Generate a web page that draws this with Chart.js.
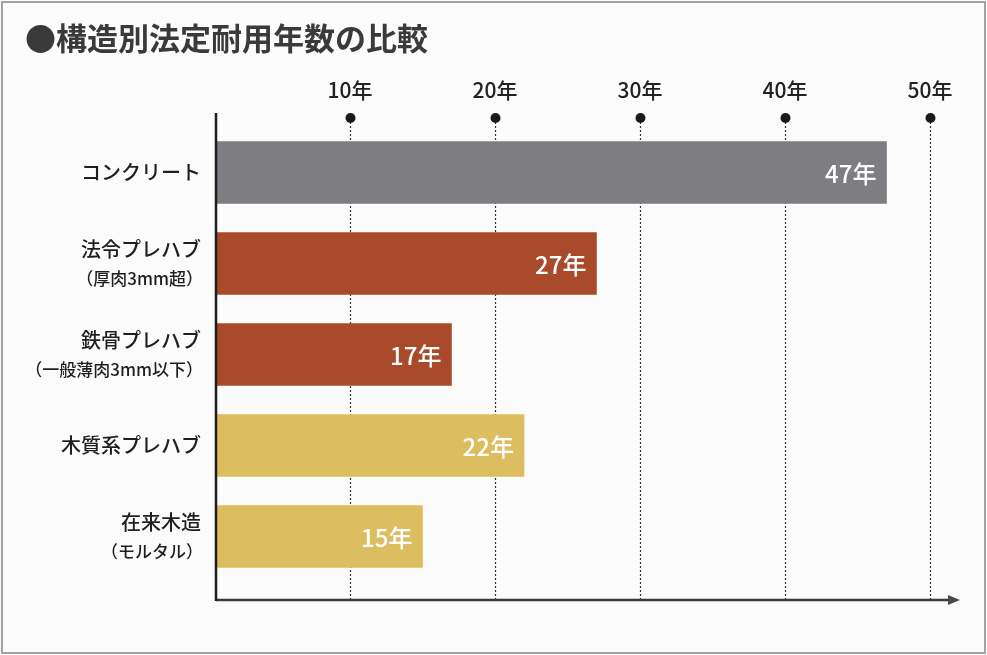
<!DOCTYPE html>
<html lang="ja">
<head>
<meta charset="utf-8">
<title>構造別法定耐用年数の比較</title>
<script src="https://cdn.jsdelivr.net/npm/chart.js@4.4.1/dist/chart.umd.min.js"></script>
<style>
  html, body { margin: 0; padding: 0; background: #fbfbfb; }
  #wrap { width: 987px; height: 655px; position: relative; }
</style>
</head>
<body>
<div id="wrap"><canvas id="lifeChart"></canvas></div>
<script>
const chartTitle = "●構造別法定耐用年数の比較";
const structureLabels = [
  ["コンクリート"],
  ["法令プレハブ", "（厚肉3mm超）"],
  ["鉄骨プレハブ", "（一般薄肉3mm以下）"],
  ["木質系プレハブ"],
  ["在来木造", "（モルタル）"],
];
const usefulYears = [47, 27, 17, 22, 15];
const barColors = ["#7d7d82", "#a94b2b", "#a94b2b", "#dcbd60", "#dcbd60"];
const yearTicks = [10, 20, 30, 40, 50];
const yearSuffix = "年";

const FONT = "'Noto Sans CJK JP', 'Noto Sans', sans-serif";
const X_MIN = 0.76;
const X_MAX = 52.07;

// 背景と枠
const framePlugin = {
  id: "frame",
  beforeDraw(chart) {
    const { ctx, width, height } = chart;
    ctx.save();
    ctx.fillStyle = "#fbfbfb";
    ctx.fillRect(0, 0, width, height);
    ctx.strokeStyle = "#a3a3a3";
    ctx.lineWidth = 2;
    ctx.strokeRect(2, 2, width - 4, height - 4);
    ctx.restore();
  },
};

// 点線の目盛線と黒丸、軸線
const gridPlugin = {
  id: "dotGrid",
  beforeDatasetsDraw(chart) {
    const { ctx, chartArea, scales } = chart;
    const top = chartArea.top - 9;
    const bottom = chartArea.bottom + 18;
    ctx.save();
    yearTicks.forEach((v) => {
      const x = Math.round(scales.x.getPixelForValue(v)) + 0.5;
      ctx.strokeStyle = "#333";
      ctx.lineWidth = 1.2;
      ctx.setLineDash([2, 2]);
      ctx.beginPath();
      ctx.moveTo(x, top);
      ctx.lineTo(x, bottom);
      ctx.stroke();
      ctx.setLineDash([]);
      ctx.fillStyle = "#1a1a1a";
      ctx.beginPath();
      ctx.arc(x, top, 5, 0, Math.PI * 2);
      ctx.fill();
    });
    ctx.restore();
  },
  afterDatasetsDraw(chart) {
    const { ctx, chartArea } = chart;
    const left = chartArea.left;
    const top = chartArea.top - 14;
    const bottom = chartArea.bottom + 18;
    ctx.save();
    ctx.strokeStyle = "#3a3a3a";
    ctx.lineWidth = 2.5;
    ctx.beginPath();
    ctx.moveTo(left, bottom);
    ctx.lineTo(chartArea.right - 8, bottom);
    ctx.stroke();
    ctx.fillStyle = "#4a4a4a";
    ctx.beginPath();
    ctx.moveTo(chartArea.right, bottom);
    ctx.lineTo(chartArea.right - 12, bottom - 5);
    ctx.lineTo(chartArea.right - 12, bottom + 5);
    ctx.closePath();
    ctx.fill();
    ctx.strokeStyle = "#1e1e1e";
    ctx.beginPath();
    ctx.moveTo(left, top);
    ctx.lineTo(left, bottom + 1);
    ctx.stroke();
    ctx.restore();
  },
};

// 左の項目名と棒の中の数値
const labelPlugin = {
  id: "labels",
  afterDraw(chart) {
    const { ctx, scales } = chart;
    const meta = chart.getDatasetMeta(0);
    ctx.save();
    ctx.textBaseline = "middle";
    structureLabels.forEach((lines, i) => {
      const y = scales.y.getPixelForTick(i);
      ctx.textAlign = "right";
      ctx.fillStyle = "#1f1f1f";
      if (lines.length === 1) {
        ctx.font = `500 20px ${FONT}`;
        ctx.fillText(lines[0], 201, y);
      } else {
        ctx.font = `500 20px ${FONT}`;
        ctx.fillText(lines[0], 201, y - 14);
        ctx.font = `500 17px ${FONT}`;
        ctx.fillText(lines[1], 203, y + 15);
      }
      const bar = meta.data[i];
      ctx.fillStyle = "#ffffff";
      ctx.font = `500 24px ${FONT}`;
      ctx.fillText(usefulYears[i] + yearSuffix, bar.x - 10, bar.y + 1);
    });
    ctx.restore();
  },
};

new Chart(document.getElementById("lifeChart"), {
  type: "bar",
  data: {
    labels: structureLabels,
    datasets: [
      {
        data: usefulYears,
        backgroundColor: barColors,
        barThickness: 62,
        base: X_MIN,
      },
    ],
  },
  options: {
    indexAxis: "y",
    responsive: true,
    maintainAspectRatio: false,
    animation: false,
    layout: { padding: { left: 25, right: 27, bottom: 73, top: 0 } },
    scales: {
      x: {
        position: "top",
        min: X_MIN,
        max: X_MAX,
        afterBuildTicks: (scale) => {
          scale.ticks = yearTicks.map((v) => ({ value: v }));
        },
        afterFit: (scale) => {
          scale.paddingLeft = 0;
          scale.paddingRight = 0;
        },
        grid: { display: false, drawTicks: false },
        border: { display: false },
        ticks: {
          padding: 26,
          color: "#222",
          font: { family: FONT, size: 21, weight: "500", lineHeight: 1.0 },
          callback: (v) => v + yearSuffix,
        },
      },
      y: {
        grid: { display: false, drawTicks: false },
        border: { display: false },
        ticks: { display: false },
        afterFit: (scale) => {
          scale.width = 191;
        },
      },
    },
    plugins: {
      legend: { display: false },
      tooltip: { enabled: false },
      title: {
        display: true,
        text: chartTitle,
        align: "start",
        color: "#3a3a3a",
        font: { family: FONT, size: 31, weight: "bold", lineHeight: 1.0 },
        padding: { top: 23, bottom: 0 },
      },
    },
  },
  plugins: [framePlugin, gridPlugin, labelPlugin],
});
</script>
</body>
</html>
